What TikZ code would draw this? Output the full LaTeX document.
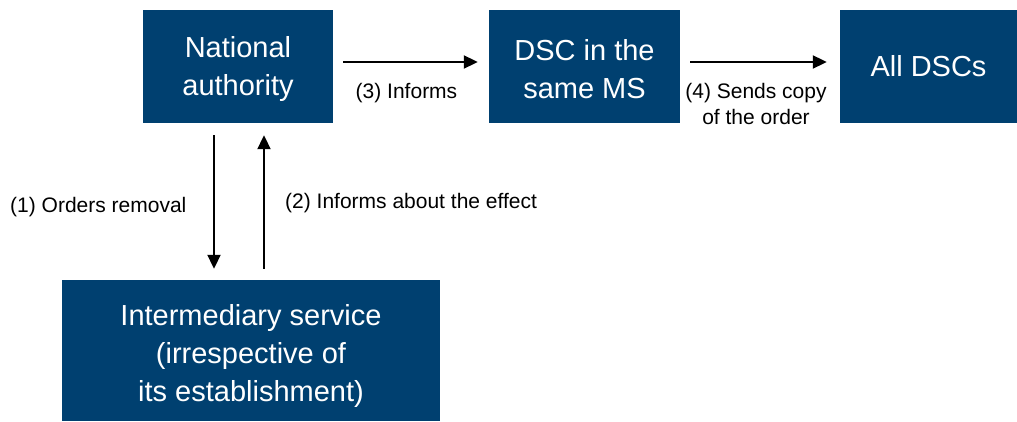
\documentclass[tikz,border=0pt]{standalone}
\usepackage{fontspec}
\setmainfont{Liberation Sans}
\usetikzlibrary{arrows.meta}
\definecolor{boxblue}{RGB}{0,64,112}
\begin{document}
\begin{tikzpicture}[x=1pt,y=1pt,
  blockbox/.style={fill=boxblue, inner sep=0pt},
  boxtext/.style={text=white, inner sep=0pt, align=center,
    font=\fontsize{29}{38}\selectfont},
  flow/.style={line width=2pt, -{Triangle[length=14pt,width=13pt]}},
  lbl/.style={font=\fontsize{21}{26}\selectfont, inner sep=0pt, align=center}]
\useasboundingbox (0,0) rectangle (1017,421);

% boxes, with their captions set a little below the centre
\node[blockbox, minimum width=190pt, minimum height=113pt,
  label={[boxtext, yshift=-3pt]center:{National\\authority}}] (na) at (238,354.5) {};
\node[blockbox, minimum width=191pt, minimum height=113pt,
  label={[boxtext, yshift=-3pt]center:{DSC in the\\same MS}}] (dsc) at (584.5,354.5) {};
\node[blockbox, minimum width=177pt, minimum height=113pt,
  label={[boxtext]center:{All DSCs}}] (all) at (928.5,354.5) {};
\node[blockbox, minimum width=378pt, minimum height=141pt,
  label={[boxtext, yshift=-5pt]center:{Intermediary service\\(irrespective of\\its establishment)}}] (int) at (251,70.5) {};

% connectors
\draw[flow] ([xshift=10pt,yshift=4.5pt]na.east) -- ([xshift=-11pt,yshift=4.5pt]dsc.west);
\draw[flow] ([xshift=10pt,yshift=4.5pt]dsc.east) -- ([xshift=-13pt,yshift=4.5pt]all.west);
\draw[flow] ([xshift=-24pt,yshift=-12pt]na.south) -- ([xshift=-37pt,yshift=11pt]int.north);
\draw[flow] ([xshift=13pt,yshift=11pt]int.north) -- ([xshift=26pt,yshift=-12pt]na.south);

% labels
\node[lbl, anchor=west] (l1) at (10,214) {(1) Orders removal};
\node[lbl, anchor=west] (l2) at (285,218) {(2) Informs about the effect};
\node[lbl] (l3) at (406.5,328) {(3) Informs};
\node[lbl] (l4) at (756,317) {(4) Sends copy\\of the order};
\end{tikzpicture}
\end{document}
